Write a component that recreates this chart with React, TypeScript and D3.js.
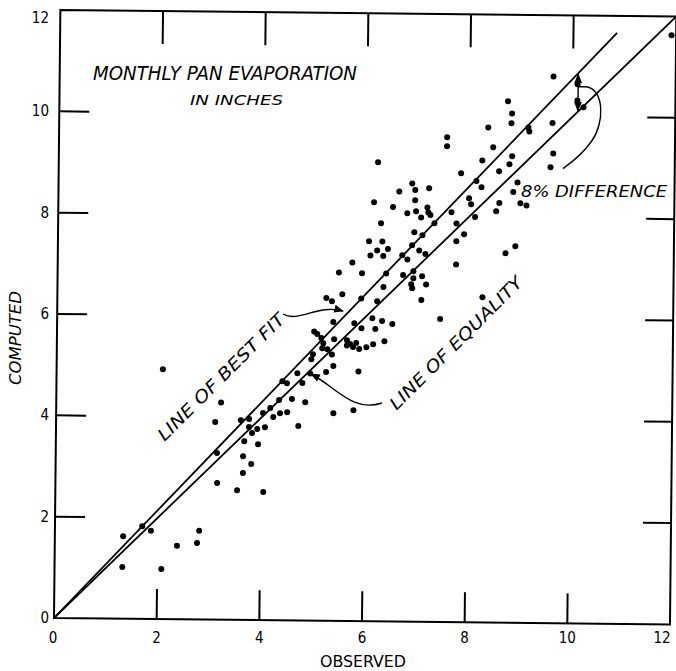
import * as d3 from "d3";

const observed = [
  1.33, 1.7, 1.87, 1.32, 2.08, 2.38, 2.77, 2.81, 3.15, 2.07, 3.21, 3.1, 3.6, 3.76, 3.76, 3.92,
  4.03, 4.07, 3.82, 4.17, 4.23, 4.34, 4.36, 4.5, 4.4, 4.49, 4.59, 4.69, 4.72, 3.67, 3.94, 3.14,
  3.65, 3.81, 3.65, 3.54, 4.05, 5.48, 5.55, 5.24, 5.35, 5.38, 5.79, 6.33, 6.53, 5.93, 6.2, 5.01,
  5.07, 5.15, 5.19, 5.4, 5.65, 5.71, 5.83, 5.65, 5.77, 5.89, 6.03, 6.16, 6.38, 5.27, 5.36, 5.17,
  4.99, 4.96, 5.39, 5.25, 5.88, 4.94, 4.79, 4.85, 5.4, 5.79, 7.46, 8.36, 8.81, 9.14, 9.16, 7.56,
  7.56, 8.46, 6.22, 8.25, 8.83, 8.78, 9.58, 7.84, 8.58, 6.89, 8.14, 8.94, 8.24, 6.64, 6.95, 7.22,
  8.86, 6.95, 6.15, 8.0, 8.04, 8.59, 9.0, 9.12, 6.52, 7.19, 7.21, 7.25, 6.97, 6.8, 7.07, 7.66,
  8.53, 8.12, 6.29, 7.33, 7.76, 6.94, 7.1, 7.91, 6.06, 6.32, 7.76, 6.9, 6.22, 6.43, 7.04, 8.91,
  8.72, 6.09, 6.34, 6.71, 7.16, 6.81, 5.74, 7.76, 5.93, 6.4, 6.73, 6.93, 7.1, 6.93, 7.18, 6.89,
  6.91, 6.35, 5.92, 6.23, 7.09, 8.28, 6.14, 9.62, 10.09, 10.09, 10.21, 8.74, 8.82, 9.61, 9.63, 11.91,
];
const computed = [
  1.63, 1.83, 1.74, 1.02, 0.99, 1.45, 1.51, 1.75, 2.7, 4.93, 4.29, 3.9, 3.94, 3.97, 3.81, 3.77,
  4.09, 3.81, 3.69, 4.19, 4.01, 4.35, 4.09, 4.11, 4.72, 4.68, 4.37, 4.88, 3.84, 3.53, 3.47, 3.29,
  3.23, 3.08, 2.9, 2.56, 2.53, 6.88, 6.45, 6.37, 6.31, 5.9, 5.88, 5.93, 5.87, 5.78, 5.77, 5.71,
  5.66, 5.58, 5.48, 5.56, 5.54, 5.47, 5.49, 5.44, 5.41, 5.37, 5.41, 5.47, 5.53, 5.36, 5.26, 5.38,
  5.26, 5.16, 5.03, 4.91, 4.93, 4.88, 4.69, 4.31, 4.1, 4.16, 5.98, 9.77, 9.86, 9.78, 9.7, 9.57,
  9.39, 9.38, 9.06, 9.12, 9.21, 9.05, 9.0, 8.86, 8.91, 8.65, 8.71, 8.69, 8.59, 8.49, 8.52, 8.56,
  8.5, 8.32, 8.27, 8.37, 8.25, 8.28, 8.28, 8.24, 8.18, 8.18, 8.08, 8.03, 8.1, 8.06, 7.98, 8.09,
  8.12, 8.0, 7.86, 7.87, 7.87, 7.69, 7.63, 7.66, 7.5, 7.5, 7.52, 7.43, 7.32, 7.35, 7.33, 7.43,
  7.29, 7.22, 7.21, 7.23, 7.26, 7.15, 7.08, 7.06, 6.87, 6.87, 6.84, 6.92, 6.82, 6.78, 6.66, 6.66,
  6.58, 6.6, 6.37, 6.32, 6.35, 6.42, 5.98, 10.79, 10.64, 10.32, 10.19, 10.29, 10.05, 9.87, 9.27, 11.63,
];

const tickValues = [2, 4, 6, 8, 10];
const tickLabels = ["0", "2", "4", "6", "8", "10", "12"];
const bestFitSlope = 1.075; // "8% difference"
const bestFitEnd = 10.85;
const bracketAt = 10.1;

const W = 676;
const H = 671;
// the scanned figure is tilted a little; origin and rotation of the frame
const OX = 54;
const OY = 618;
const TILT = (0.6 * Math.PI) / 180;

const x = d3.scaleLinear().domain([0, 12]).range([0, 616]);
const y = d3.scaleLinear().domain([0, 12]).range([0, -608]);

function rot(a: number, b: number): [number, number] {
  const c = Math.cos(TILT);
  const s = Math.sin(TILT);
  return [OX + a * c - b * s, OY + a * s + b * c];
}
const pt = (u: number, v: number) => rot(x(u), y(v));

const INK = "#000";
const font = "'DejaVu Sans Condensed', 'DejaVu Sans', sans-serif";

export default function App() {
  const corners = [pt(0, 0), pt(12, 0), pt(12, 12), pt(0, 12)];
  const frame = corners.map((c) => c.join(",")).join(" ");
  const tickLen = 30;

  // inward ticks on the four sides
  const tickSegs: [number, number][][] = [];
  tickValues.forEach((t) => {
    tickSegs.push([rot(0, y(t)), rot(tickLen, y(t))]);
    tickSegs.push([rot(x(12), y(t)), rot(x(12) - tickLen + 2, y(t))]);
    tickSegs.push([rot(x(t), 0), rot(x(t), -tickLen)]);
    tickSegs.push([rot(x(t), y(12)), rot(x(t), y(12) + tickLen + 3)]);
  });

  const bTop = pt(bracketAt, bracketAt * bestFitSlope);
  const bBot = pt(bracketAt, bracketAt);
  const bMid: [number, number] = [bTop[0], bTop[1] + (bBot[1] - bTop[1]) * 0.35];
  const eq = [pt(0, 0), pt(12, 12)];
  const bf = [pt(0, 0), pt(bestFitEnd, bestFitEnd * bestFitSlope)];

  return (
    <svg
      width={W}
      height={H}
      style={{ position: "absolute", left: 0, top: 0, background: "white" }}
      fontFamily={font}
    >
      <defs>
        <marker
          id="arr"
          viewBox="0 0 10 10"
          refX="9"
          refY="5"
          markerWidth="7"
          markerHeight="7"
          orient="auto-start-reverse"
        >
          <path d="M0,1 L10,5 L0,9 z" fill={INK} />
        </marker>
      </defs>
      <rect width={W} height={H} fill="white" />

      {/* frame + ticks */}
      <polygon points={frame} fill="none" stroke={INK} strokeWidth={2} />
      {tickSegs.map(([p, q], i) => (
        <line key={"tk" + i} x1={p[0]} y1={p[1]} x2={q[0]} y2={q[1]} stroke={INK} strokeWidth={2} />
      ))}

      {/* tick labels */}
      {tickLabels.map((l, i) => {
        const v = i * 2;
        return (
          <g key={"l" + l}>
            <text
              x={49}
              y={Math.max(OY + y(v), 18)}
              textAnchor="end"
              dominantBaseline="central"
              fontSize={15}
              fill={INK}
            >
              {l}
            </text>
            <text
              x={Math.min(OX + x(v) - (v === 0 ? 1 : 0), 662)}
              y={638}
              textAnchor="middle"
              dominantBaseline="central"
              fontSize={15}
              fill={INK}
            >
              {l}
            </text>
          </g>
        );
      })}

      {/* axis titles */}
      <text x={363} y={662} textAnchor="middle" dominantBaseline="central" fontSize={15} fill={INK}
        textLength={86} lengthAdjust="spacingAndGlyphs">
        OBSERVED
      </text>
      <text
        transform="translate(16,338) rotate(-90)"
        textAnchor="middle"
        dominantBaseline="central"
        fontSize={15}
        fontStyle="italic"
        fill={INK}
        textLength={94}
        lengthAdjust="spacingAndGlyphs"
      >
        COMPUTED
      </text>

      {/* chart title */}
      <text x={93} y={80} fontSize={20} fontStyle="italic" fill={INK} textLength={264}
        lengthAdjust="spacingAndGlyphs">
        MONTHLY PAN EVAPORATION
      </text>
      <text x={190} y={105} fontSize={14} fontStyle="italic" fill={INK} textLength={93}
        lengthAdjust="spacingAndGlyphs">
        IN INCHES
      </text>

      {/* line of equality and line of best fit */}
      <line x1={eq[0][0]} y1={eq[0][1]} x2={eq[1][0]} y2={eq[1][1]} stroke={INK} strokeWidth={1.8} />
      <line x1={bf[0][0]} y1={bf[0][1]} x2={bf[1][0]} y2={bf[1][1]} stroke={INK} strokeWidth={1.8} />

      {/* observations */}
      {observed.map((o, i) => {
        const [cx, cy] = pt(o, computed[i]);
        return <circle key={i} cx={cx} cy={cy} r={3} fill={INK} />;
      })}

      {/* line labels */}
      <text
        transform="translate(221,377) rotate(-45)"
        textAnchor="middle"
        dominantBaseline="central"
        fontSize={17}
        fontStyle="italic"
        fill={INK}
        textLength={172}
        lengthAdjust="spacingAndGlyphs"
      >
        LINE OF BEST FIT
      </text>
      <path d="M283,314 C298,323 318,304 343,311" fill="none" stroke={INK} strokeWidth={1.4}
        markerEnd="url(#arr)" />

      <text
        transform="translate(456,343) rotate(-45)"
        textAnchor="middle"
        dominantBaseline="central"
        fontSize={17}
        fontStyle="italic"
        fill={INK}
        textLength={180}
        lengthAdjust="spacingAndGlyphs"
      >
        LINE OF EQUALITY
      </text>
      <path d="M382,403 C352,413 335,386 311,374" fill="none" stroke={INK} strokeWidth={1.4}
        markerEnd="url(#arr)" />

      {/* 8% difference bracket */}
      <line x1={bMid[0]} y1={bMid[1]} x2={bTop[0]} y2={bTop[1] + 1} stroke={INK} strokeWidth={1.4}
        markerEnd="url(#arr)" />
      <line x1={bMid[0]} y1={bMid[1]} x2={bBot[0]} y2={bBot[1] - 1} stroke={INK} strokeWidth={1.4}
        markerEnd="url(#arr)" />
      <path
        d={`M${bMid[0]},${bMid[1]} L${bMid[0] + 8},${bMid[1]} C${bMid[0] + 26},${bMid[1] + 2} ${bMid[0] + 27},${bMid[1] + 36} ${bMid[0] + 13},${bMid[1] + 55} S${bMid[0] - 12},${bMid[1] + 78} ${bMid[0] - 15},${bMid[1] + 82}`}
        fill="none"
        stroke={INK}
        strokeWidth={1.4}
      />
      <text x={521} y={197} fontSize={16} fontStyle="italic" fill={INK} textLength={146}
        lengthAdjust="spacingAndGlyphs">
        8% DIFFERENCE
      </text>
    </svg>
  );
}
